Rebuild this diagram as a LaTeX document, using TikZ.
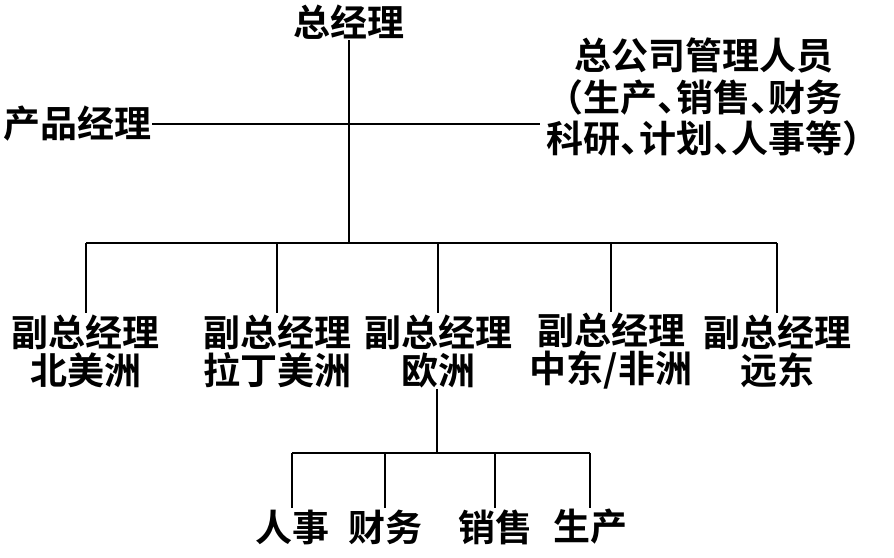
\documentclass[tikz,border=0pt]{standalone}
\usepackage{fontspec}
\setmainfont{Noto Sans CJK SC}[BoldFont={Noto Sans CJK SC Bold}]
\newfontfamily\cjk[RawFeature=+halt]{Noto Sans CJK SC Bold}
\begin{document}
\begin{tikzpicture}[x=1pt,y=-1pt,
  lbl/.style={inner sep=1pt,align=center,font=\cjk\fontsize{37}{38}\selectfont},
  ln/.style={line width=1.8pt}]
\useasboundingbox[fill=white] (0,0) rectangle (894,557);
% top level
\node[lbl] (gm) at (349,22) {总经理};
\node[lbl,anchor=west] (pm) at (2,124) {产品经理};
\node[lbl,font=\cjk\fontsize{37}{41.5}\selectfont] (staff) at (704,97) {总公司管理人员\\（生产、销售、财务\\科研、计划、人事等）};
\coordinate (cross) at (349,124);
\coordinate (bus) at (349,243);
% regional VPs
\node[lbl] (v1) at (86,351) {副总经理\\北美洲};
\node[lbl] (v2) at (277,351) {副总经理\\拉丁美洲};
\node[lbl] (v3) at (438,351) {副总经理\\欧洲};
\node[lbl] (v4) at (611,351) {副总经理\\中东/非洲};
\node[lbl] (v5) at (777,351) {副总经理\\远东};
% Europe departments
\coordinate (bus2) at (437,453);
\node[lbl] (d1) at (292,527) {人事};
\node[lbl] (d2) at (385,527) {财务};
\node[lbl] (d3) at (495,527) {销售};
\node[lbl] (d4) at (590,527) {生产};
% connectors
\draw[ln] (gm.south) -- (bus);
\draw[ln] (pm.east) -- ([xshift=-6pt]staff.west |- cross);
\draw[ln] (v1.north |- bus) -- (v5.north |- bus);
\foreach \v in {v1,v2,v3,v4,v5}{\draw[ln] (\v.north |- bus) -- (\v.north);}
\draw[ln] (v3.south -| bus2) -- (bus2);
\draw[ln] (d1.north |- bus2) -- (d4.north |- bus2);
\foreach \d in {d1,d2,d3,d4}{\draw[ln] (\d.north |- bus2) -- (\d.north);}
\end{tikzpicture}
\end{document}
